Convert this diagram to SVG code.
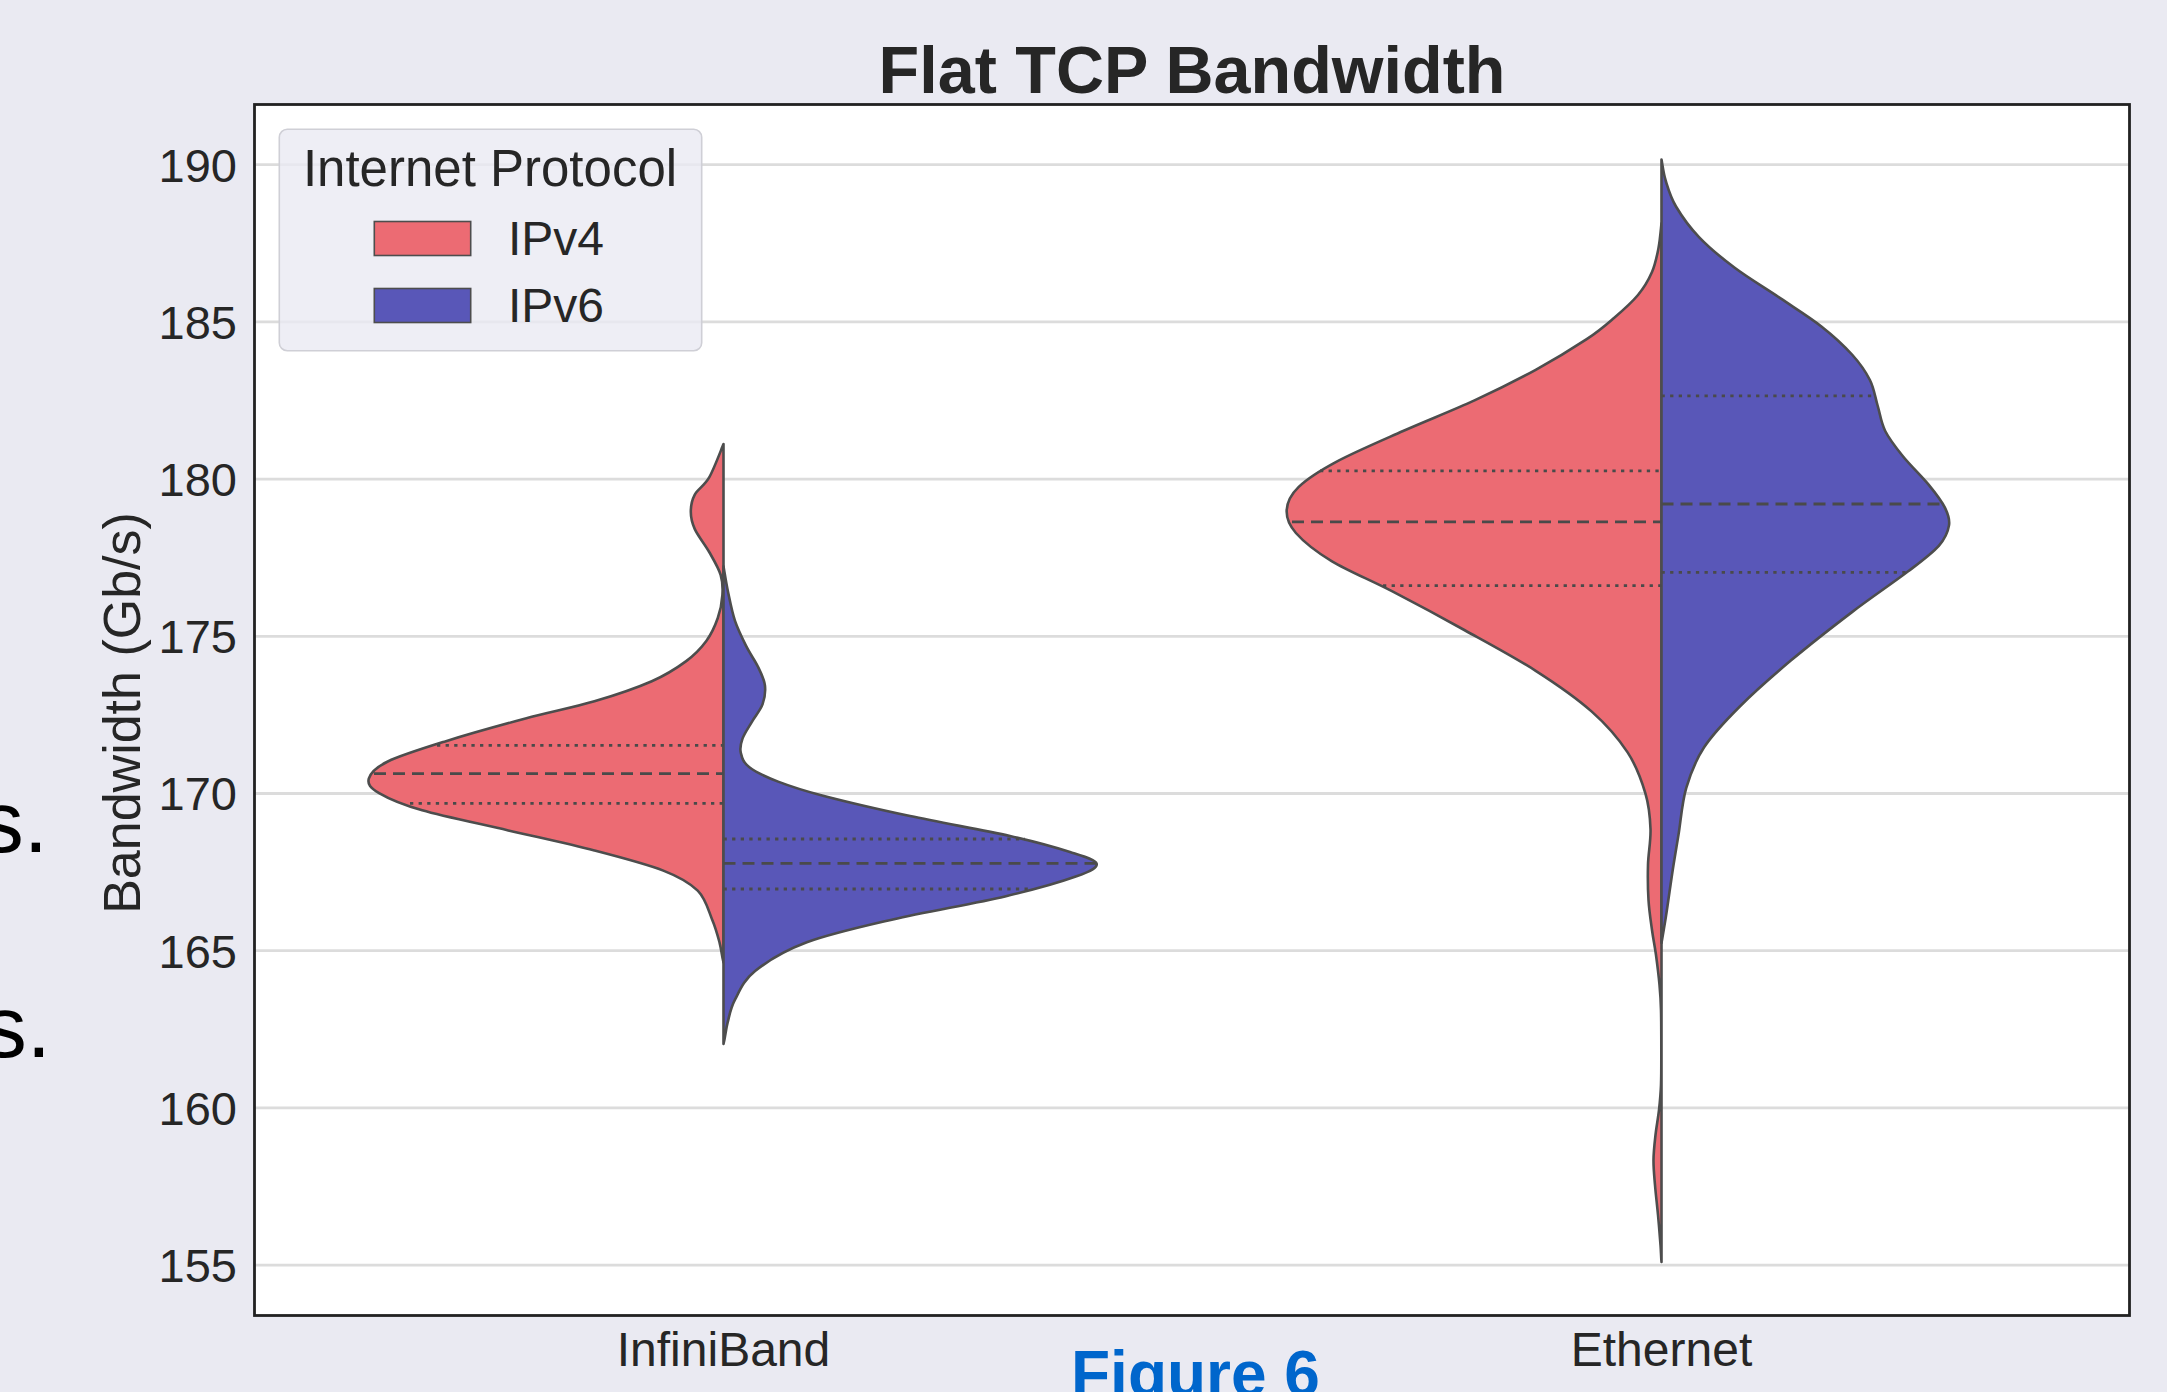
<svg xmlns="http://www.w3.org/2000/svg" width="2167" height="1392" viewBox="0 0 2167 1392">
<style>
.bg{fill:#eaeaf2}
.grid{stroke:#dcdcdc;stroke-width:2.8;fill:none}
.tick{font-family:"Liberation Sans",Arial,sans-serif;font-size:47px;fill:#262626}
.xtick{font-family:"Liberation Sans",Arial,sans-serif;font-size:48px;fill:#262626;text-anchor:middle}
.v4{fill:#ec6b73;stroke:#4d4d4d;stroke-width:2.6;stroke-linejoin:round}
.v6{fill:#5957b8;stroke:#4d4d4d;stroke-width:2.6;stroke-linejoin:round}
.med{stroke:#4a4a4a;stroke-width:2.8;stroke-dasharray:12 7;fill:none}
.qrt{stroke:#4a4a4a;stroke-width:2.8;stroke-dasharray:3.3 5.3;fill:none}
</style>
<rect class="bg" x="0" y="0" width="2167" height="1392"/>
<g id="left-text" font-family="'Liberation Sans',Arial,sans-serif" font-size="87" fill="#000" text-anchor="end">
<text x="48" y="852">s.</text>
<text x="51" y="1057">s.</text>
</g>
<text id="title" x="1192" y="93" text-anchor="middle" font-family="'Liberation Sans',Arial,sans-serif" font-weight="bold" font-size="66.5" fill="#262626">Flat TCP Bandwidth</text>
<rect id="plot-area" x="254.5" y="104.5" width="1875" height="1211" fill="#ffffff"/>
<g id="gridlines">
<line class="grid" x1="254.5" y1="164.7" x2="2129.5" y2="164.7"/>
<line class="grid" x1="254.5" y1="321.9" x2="2129.5" y2="321.9"/>
<line class="grid" x1="254.5" y1="479.1" x2="2129.5" y2="479.1"/>
<line class="grid" x1="254.5" y1="636.3" x2="2129.5" y2="636.3"/>
<line class="grid" x1="254.5" y1="793.5" x2="2129.5" y2="793.5"/>
<line class="grid" x1="254.5" y1="950.7" x2="2129.5" y2="950.7"/>
<line class="grid" x1="254.5" y1="1107.9" x2="2129.5" y2="1107.9"/>
<line class="grid" x1="254.5" y1="1265.1" x2="2129.5" y2="1265.1"/>
</g>
<g id="y-ticks" class="tick" text-anchor="end">
<text x="237" y="181.5">190</text>
<text x="237" y="338.7">185</text>
<text x="237" y="495.9">180</text>
<text x="237" y="653.1">175</text>
<text x="237" y="810.3">170</text>
<text x="237" y="967.5">165</text>
<text x="237" y="1124.7">160</text>
<text x="237" y="1281.9">155</text>
</g>
<text id="y-label" transform="translate(140,713) rotate(-90)" text-anchor="middle" font-family="'Liberation Sans',Arial,sans-serif" font-size="52" fill="#262626">Bandwidth (Gb/s)</text>
<g id="x-ticks">
<text class="xtick" x="723.5" y="1366">InfiniBand</text>
<text class="xtick" x="1661.5" y="1366">Ethernet</text>
</g>
<g id="violin-infiniband">
<path id="ib-ipv4" class="v4" d="M723.5,444.1 C721.12,449.65 713.98,468.98 709.2,477.4 S697.87,488.87 694.8,494.6 S690.8,506.05 690.8,511.8 S691.73,522.4 694.8,529.1 S704.88,544.35 709.2,552 S718.5,567.82 720.7,575 S722.88,587.93 722.4,595.1 S720.48,610.35 717.8,618 S711.57,633.82 706.3,641 S695.28,654.4 686.2,661.1 S667.1,674.5 651.8,681.2 S615.45,695.08 594.4,701.3 S550.37,711.82 525.5,718.5 S468.15,734.23 445.2,741.4 S400.53,755.28 387.8,761.5 S370.25,773.43 368.8,778.7 S370.2,787.83 379.1,793.1 S400.67,804.08 422.2,810.3 S479.6,823.7 508.3,830.4 S568.57,843.8 594.4,850.5 S646.08,863.9 663.3,870.6 S689.57,882.57 697.7,890.7 S708.47,910.8 712.1,919.4 S717.6,935.13 719.5,942.3 S721.6,955.23 723.5,962.4 Z"/>
<path id="ib-ipv6" class="v6" d="M723.5,566.4 C724.27,570.7 726.18,583.12 728.1,592.2 S731.93,611.82 735,620.9 S742.67,639.05 746.5,646.7 S754.93,660.38 758,666.8 S764.13,678.98 764.9,685.2 S764.72,698.08 762.6,704.1 S755.55,715.55 752.2,721.3 S744.4,733.33 742.5,738.6 S739.65,748.12 740.8,752.9 S743.18,762.52 749.4,767.3 S765.67,776.82 778.1,781.6 S802,790.25 824,796 S879.1,809.43 910.1,816.1 S983.35,830.02 1010,836 S1055.57,847.38 1070,852 S1095.52,859.65 1096.6,863.7 S1091.77,870.85 1076.5,876.3 S1035.6,889.22 1005,896.4 S925.93,911.75 892.9,919.4 S829.77,933.7 806.8,942.3 S767.07,961.43 755.1,971 S739.58,991.08 735,999.7 S729.52,1015.33 727.6,1022.7 S725.42,1036.53 723.5,1043.9 Z"/>
<line class="qrt" x1="437" y1="745.4" x2="723.5" y2="745.4"/>
<line class="med" x1="374" y1="773.6" x2="723.5" y2="773.6"/>
<line class="qrt" x1="410" y1="803.4" x2="723.5" y2="803.4"/>
<line class="qrt" x1="723.5" y1="839" x2="1025" y2="839"/>
<line class="med" x1="723.5" y1="863.4" x2="1096" y2="863.4"/>
<line class="qrt" x1="723.5" y1="889" x2="1033" y2="889"/>
</g>
<g id="violin-ethernet">
<path id="eth-ipv4" class="v4" d="M1661.5,223.4 C1661,227.5 1660.08,239.9 1658.5,248 S1655.42,264.17 1652,272 S1644.33,287.33 1638,295 S1622.55,310.63 1614,318 S1599.75,330.57 1586.7,339.2 S1554.4,359.6 1535.7,369.8 S1496.6,390.2 1474.5,400.4 S1426.07,420.8 1403.1,431 S1354.13,452.25 1336.7,461.6 S1306.83,479.02 1298.5,487.1 S1287.13,502.45 1286.7,510.1 S1288.42,524.5 1295.9,533 S1315.43,551.32 1331.6,561.1 S1370.78,580.22 1392.9,591.7 S1440.5,616.82 1464.3,630 S1514.45,657.2 1535.7,670.8 S1576.48,698 1591.8,711.6 S1618.67,738.78 1627.6,752.4 S1641.58,780.53 1645.4,793.3 S1650.07,817.1 1650.5,829 S1648.33,852.87 1648,864.7 S1647.83,889.12 1648.5,900 S1650.75,920.83 1652,930 S1654.75,945.83 1656,955 S1658.67,975.83 1659.5,985 S1660.7,999.17 1661,1010 S1661.3,1037.5 1661.3,1050 S1661.38,1075 1661,1085 S1659.92,1101.67 1659,1110 S1656.42,1126.67 1655.5,1135 S1653.58,1151.67 1653.5,1160 S1654.25,1175.83 1655,1185 S1657.08,1205 1658,1215 S1659.92,1237.17 1660.5,1245 S1660.92,1254.17 1661.5,1262 Z"/>
<path id="eth-ipv6" class="v6" d="M1661.5,159.6 C1662.22,163.17 1663.38,173.18 1665.8,181 S1670.47,197.15 1676,206.5 S1689.22,226.88 1699,237.1 S1721.1,257.58 1734.7,267.8 S1766.15,288.63 1780.6,298.4 S1809.5,317.05 1821.4,326.4 S1843.92,345.57 1852,354.5 S1865.63,371.5 1869.9,380 S1875.05,397 1877.6,405.5 S1880.95,422.5 1885.2,431 S1895.87,447.57 1903.1,456.5 S1921.63,476.08 1928.6,484.6 S1941.5,500.8 1944.9,507.6 S1950.02,519.03 1949,525.4 S1945.6,538.15 1938.8,545.8 S1922.67,560.25 1908.2,571.3 S1871.57,597.22 1852,612.1 S1809.5,644.87 1790.8,660.6 S1754.25,692.05 1739.8,706.5 S1713.03,733.68 1704.1,747.3 S1690.45,773.73 1686.2,788.2 S1680.72,821.3 1678.6,834.1 S1675.02,855.35 1673.5,865 S1670.75,883.5 1669.5,892 S1667.33,907.5 1666,916 S1662.25,938.5 1661.5,943 Z"/>
<line class="qrt" x1="1320" y1="470.8" x2="1661.5" y2="470.8"/>
<line class="med" x1="1292" y1="521.8" x2="1661.5" y2="521.8"/>
<line class="qrt" x1="1383" y1="585.6" x2="1661.5" y2="585.6"/>
<line class="qrt" x1="1661.5" y1="395.8" x2="1873" y2="395.8"/>
<line class="med" x1="1661.5" y1="504" x2="1943" y2="504"/>
<line class="qrt" x1="1661.5" y1="572.3" x2="1907" y2="572.3"/>
</g>
<rect id="axes-frame" x="254.5" y="104.5" width="1875" height="1211" fill="none" stroke="#222222" stroke-width="2.8"/>
<g id="legend">
<rect x="279.3" y="129.3" width="422.4" height="221.4" rx="8" fill="#eaeaf2" fill-opacity="0.8" stroke="#cfcfd6" stroke-width="1.6"/>
<text x="490" y="186" text-anchor="middle" font-family="'Liberation Sans',Arial,sans-serif" font-size="51" fill="#262626">Internet Protocol</text>
<rect x="374.3" y="221.5" width="96.4" height="34" fill="#ec6b73" stroke="#4d4d4d" stroke-width="1.6"/>
<rect x="374.3" y="288.5" width="96.4" height="34" fill="#5957b8" stroke="#4d4d4d" stroke-width="1.6"/>
<text x="508" y="255" font-family="'Liberation Sans',Arial,sans-serif" font-size="48" fill="#262626">IPv4</text>
<text x="508" y="322" font-family="'Liberation Sans',Arial,sans-serif" font-size="48" fill="#262626">IPv6</text>
</g>
<text id="figure-caption" x="1071" y="1396" font-family="'Liberation Sans',Arial,sans-serif" font-weight="bold" font-size="64" fill="#0066cc">Figure 6</text>
</svg>
